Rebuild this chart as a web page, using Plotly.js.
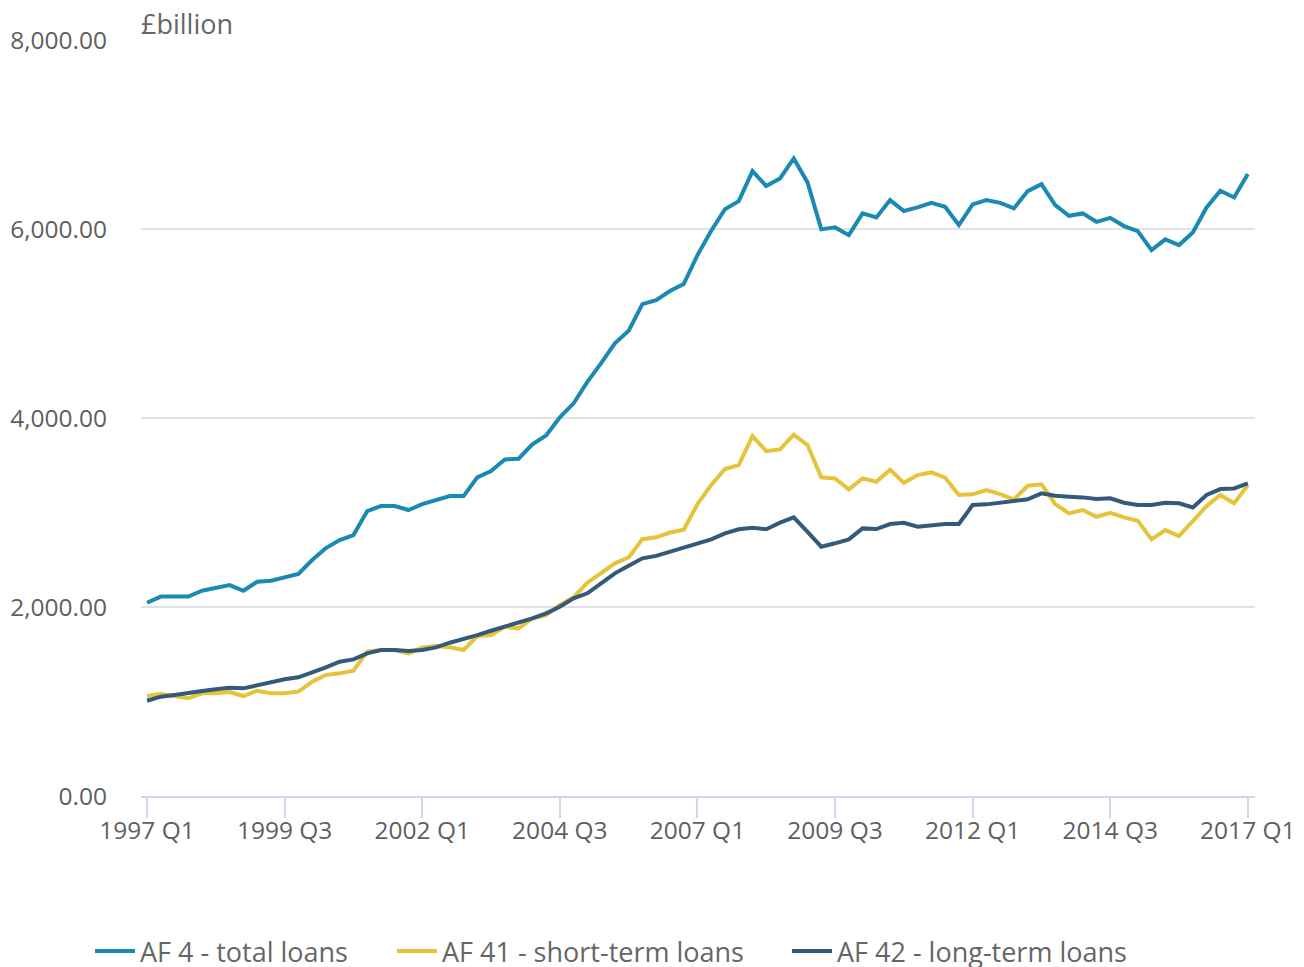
<!DOCTYPE html>
<html>
<head>
<meta charset="utf-8">
<script src="https://cdn.plot.ly/plotly-3.0.1.min.js"></script>
<style>html,body{margin:0;padding:0;background:#fff;}#chart{width:1304px;height:967px;}</style>
</head>
<body>
<div id="chart"></div>
<script>
const years = [1997,1998,1999,2000,2001,2002,2003,2004,2005,2006,2007,2008,2009,2010,2011,2012,2013,2014,2015,2016,2017];
const quarters = [];
years.forEach(y => { for (let q = 1; q <= 4; q++) { if (y === 2017 && q > 1) return; quarters.push(y + ' Q' + q); } });

const tickLabels = ['1997 Q1','1999 Q3','2002 Q1','2004 Q3','2007 Q1','2009 Q3','2012 Q1','2014 Q3','2017 Q1'];

const totalLoans = [
 2045,2110,2110,2110,2172,2197,2232,2172,2267,2278,2310,2349,2497,2624,2708,2761,
 3015,3068,3068,3026,3089,3132,3174,3174,3372,3439,3562,3569,3721,3816,4007,4155,
 4383,4580,4790,4923,5205,5248,5343,5417,5724,5981,6210,6295,6613,6454,6535,6747,
 6493,5996,6017,5935,6165,6123,6306,6190,6228,6277,6235,6041,6260,6306,6277,6218,
 6401,6475,6253,6140,6165,6076,6118,6031,5978,5777,5890,5830,5964,6228,6404,6334,
 6581
];
const shortTermLoans = [
 1058,1079,1058,1034,1087,1087,1100,1058,1114,1087,1087,1104,1210,1280,1298,1326,
 1527,1545,1545,1510,1573,1587,1573,1545,1693,1703,1791,1774,1880,1915,2021,2102,
 2257,2356,2462,2525,2718,2737,2788,2818,3088,3290,3460,3502,3809,3650,3668,3823,
 3714,3372,3361,3245,3361,3325,3453,3315,3396,3425,3368,3185,3192,3237,3195,3139,
 3283,3298,3089,2991,3026,2955,2997,2949,2913,2716,2814,2751,2913,3068,3185,3097,
 3290
];
const longTermLoans = [
 1008,1051,1069,1093,1111,1129,1146,1139,1174,1210,1235,1256,1305,1361,1421,1446,
 1510,1545,1545,1534,1545,1573,1622,1658,1703,1749,1791,1827,1880,1933,2003,2092,
 2145,2250,2356,2437,2515,2541,2583,2626,2670,2716,2779,2822,2839,2822,2892,2949,
 2796,2638,2674,2716,2832,2825,2878,2892,2849,2867,2878,2878,3079,3086,3103,3114,
 3139,3203,3177,3167,3160,3142,3150,3103,3079,3079,3103,3097,3054,3185,3248,3255,
 3308
];

const seriesNames = ['AF 4 - total loans','AF 41 - short-term loans','AF 42 - long-term loans'];
const seriesColors = ['#1b8ab3','#e5c33a','#345a7a'];
const seriesValues = [totalLoans, shortTermLoans, longTermLoans];
const legendIds = ['legend','legend2','legend3'];

const traces = seriesValues.map((vals, k) => ({
  type: 'scatter', mode: 'lines', x: quarters, y: vals, name: seriesNames[k],
  legend: legendIds[k],
  line: {color: seriesColors[k], width: 4, shape: 'linear'},
  hovertemplate: '%{x}<br>%{y:,.2f}<extra>' + seriesNames[k] + '</extra>'
}));

const legendBase = {orientation: 'h', xref: 'container', yref: 'container', xanchor: 'left', yanchor: 'middle',
  y: 0.016, font: {size: 27, color: '#666666'}, itemwidth: 40, bgcolor: 'rgba(0,0,0,0)'};

const layout = {
  width: 1304, height: 967,
  margin: {l: 141, r: 49, t: 40, b: 171},
  paper_bgcolor: '#ffffff', plot_bgcolor: '#ffffff',
  font: {family: '"Open Sans", sans-serif', size: 24, color: '#5f5f5f'},
  showlegend: true,
  legend: Object.assign({}, legendBase, {x: 90 / 1304}),
  legend2: Object.assign({}, legendBase, {x: 392 / 1304}),
  legend3: Object.assign({}, legendBase, {x: 787 / 1304}),
  xaxis: {
    type: 'category', range: [-0.44, 80.52], automargin: false,
    tickmode: 'array', tickvals: tickLabels, ticktext: tickLabels,
    ticks: 'outside', ticklen: 20, tickwidth: 2, tickcolor: '#cdd8ea',
    ticklabelstandoff: -8,
    showline: true, linecolor: '#cdd8ea', linewidth: 2,
    showgrid: false, zeroline: false,
    tickfont: {size: 24.5, color: '#5f5f5f'}, fixedrange: true
  },
  yaxis: {
    range: [0, 8000], tickmode: 'array', tickvals: [0, 2000, 4000, 6000, 8000], automargin: false,
    tickformat: ',.2f', showgrid: true, gridcolor: '#e2e2e2', gridwidth: 2,
    zeroline: false, showline: false, ticks: '', ticklabelstandoff: 33,
    tickfont: {size: 24.5, color: '#5f5f5f'}, fixedrange: true
  },
  annotations: [{
    text: '£billion', xref: 'paper', yref: 'paper', x: 0, y: 1, xanchor: 'left', yanchor: 'bottom',
    xshift: -2, yshift: -4, showarrow: false, font: {size: 27, color: '#666666'}
  }]
};

Plotly.newPlot('chart', traces, layout, {displayModeBar: false});
</script>
</body>
</html>
